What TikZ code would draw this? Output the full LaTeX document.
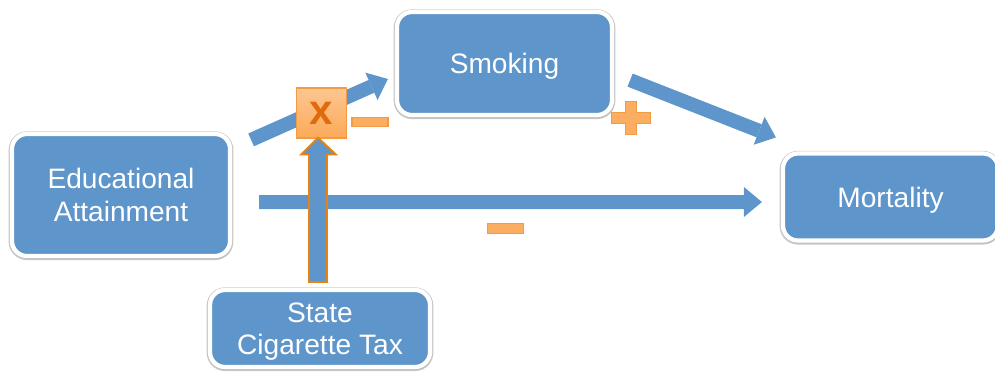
\documentclass[tikz,border=0pt]{standalone}
\usepackage{fontspec}
\setmainfont{Liberation Sans}
\usetikzlibrary{arrows.meta, positioning, calc, shadows}
\definecolor{boxblue}{HTML}{5E95CA}
\definecolor{signfill}{HTML}{FBAE62}
\definecolor{signedge}{HTML}{F39A45}
\definecolor{xtext}{HTML}{E2690C}
\definecolor{taxedge}{HTML}{E9830F}

\begin{document}
\begin{tikzpicture}[
    font=\fontsize{16}{18.5}\selectfont,
    factor/.style={rectangle, draw=white, line width=2.4pt, fill=boxblue, rounded corners=0.3cm, text=white, align=center, text depth=0pt,
        preaction={draw=black!22, line width=3.8pt, transform canvas={yshift=-0.4pt}},
        drop shadow={opacity=0.12, shadow xshift=0.03cm, shadow yshift=-0.06cm}},
    flow/.style={draw=boxblue, line width=0.28cm, -{Triangle[length=0.36cm, width=0.6cm, line width=0pt]}},
    taxflow/.style={fill=boxblue, draw=taxedge, line width=1pt, line join=miter},
    mult/.style={rectangle, draw=signedge, line width=0.6pt, top color=signfill!70!white, bottom color=signfill!90!orange, minimum size=1.0cm, inner sep=0pt, text=xtext, font=\fontsize{24}{24}\selectfont\bfseries},
    sign/.style={rectangle, fill=signfill, draw=signedge, line width=0.6pt, inner sep=0pt, minimum width=0.72cm, minimum height=0.19cm},
    plus/.style={fill=signfill, draw=signedge, line width=0.6pt}
]
    \useasboundingbox (0,0) rectangle (19.9,-7.42);

    % Factors
    \node[factor, minimum width=4.36cm, minimum height=2.44cm] (edu) at (2.42,-3.9) {Educational\\Attainment};
    \node[factor, minimum width=4.3cm, minimum height=2.06cm] (smoke) at (10.09,-1.27) {Smoking};
    \node[factor, minimum width=4.3cm, minimum height=1.74cm] (mort) at (17.81,-3.94) {Mortality};
    \node[factor, minimum width=4.4cm, minimum height=1.54cm] (tax) at (6.4,-6.57) {State\\Cigarette Tax};

    % Paths
    \draw[flow] ($(edu.north east)+(0.38,-0.16)$) -- ($(smoke.west)+(-0.14,-0.31)$);
    \draw[flow] ($(smoke.south east)+(0.32,0.74)$) -- ($(mort.north west)+(-0.1,0.28)$);
    \draw[flow] ($(edu.east)+(0.54,-0.14)$) -- ($(mort.west)+(-0.38,-0.1)$);

    % Moderator
    \node[mult] (xbox) at (6.43,-2.26) {x};
    \draw[taxflow] let \p1=(tax.north), \p2=(xbox.south) in
        (\x1-0.22cm,\y1+0.12cm) -- (\x1-0.22cm,\y2-0.32cm) -- (\x1-0.38cm,\y2-0.32cm)
        -- (\x1-0.04cm,\y2+0.02cm) -- (\x1+0.32cm,\y2-0.32cm) -- (\x1+0.14cm,\y2-0.32cm)
        -- (\x1+0.14cm,\y1+0.12cm) -- cycle;

    % Signs
    \node[sign] (minus1) at (7.4,-2.44) {};
    \node[sign] (minus2) at (10.11,-4.57) {};
    \draw[plus] (12.62,-2.36) ++(-0.11,0.33) -- ++(0.22,0) -- ++(0,-0.22) -- ++(0.28,0) -- ++(0,-0.22)
        -- ++(-0.28,0) -- ++(0,-0.22) -- ++(-0.22,0) -- ++(0,0.22) -- ++(-0.28,0) -- ++(0,0.22)
        -- ++(0.28,0) -- cycle;
\end{tikzpicture}
\end{document}
